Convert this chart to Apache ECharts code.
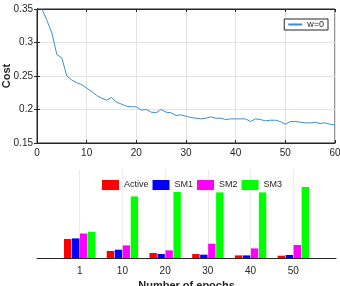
<!DOCTYPE html>
<html>
<head>
<meta charset="utf-8">
<script src="https://cdn.jsdelivr.net/npm/echarts@6/dist/echarts.min.js"></script>
<style>
html, body { margin: 0; padding: 0; background: #fff; }
#chart { width: 340px; height: 286px; }
</style>
</head>
<body>
<div id="chart"></div>
<script>
// cost curve, epochs 1..60
var epochs = [];
for (var i = 1; i <= 60; i++) epochs.push(i);
var costW0 = [
  0.350, 0.333, 0.314, 0.282, 0.277, 0.250, 0.244, 0.240, 0.237, 0.232,
  0.227, 0.221, 0.217, 0.214, 0.218, 0.211, 0.208, 0.205, 0.204, 0.204,
  0.199, 0.200, 0.196, 0.195, 0.200, 0.196, 0.195, 0.191, 0.192, 0.190,
  0.188, 0.187, 0.186, 0.187, 0.189, 0.187, 0.187, 0.185, 0.186, 0.186,
  0.186, 0.186, 0.182, 0.186, 0.185, 0.183, 0.184, 0.184, 0.182, 0.178,
  0.182, 0.182, 0.181, 0.180, 0.180, 0.181, 0.179, 0.180, 0.178, 0.177
];

// bar groups
var epochCats = ['1', '10', '20', '30', '40', '50'];
var active = [19.0, 7.0, 5.0, 4.0, 2.6, 2.3];
var sm1    = [19.6, 8.3, 4.0, 3.3, 2.6, 3.0];
var sm2    = [24.5, 12.6, 7.6, 14.3, 9.6, 13.0];
var sm3    = [26.2, 61.6, 66.0, 65.6, 65.6, 71.0];

var font = 'Liberation Sans, Arial, Helvetica, sans-serif';
var ink = '#262626';

// pad the category axis so groups sit at 1..6 of a 0..7 range
var barAxisData = [''].concat(epochCats).concat(['']);
function pad(arr) { return [null].concat(arr).concat([null]); }

var chart = echarts.init(document.getElementById('chart'));

function barSeries(name, data, color) {
  return {
    name: name, type: 'bar', xAxisIndex: 2, yAxisIndex: 2,
    data: pad(data), barWidth: 7.4, barGap: '8%',
    itemStyle: { color: color }
  };
}

chart.setOption({
  animation: false,
  backgroundColor: '#fff',
  textStyle: { fontFamily: font },
  grid: [
    { left: 37, top: 9, width: 298, height: 134, show: true, borderColor: ink, borderWidth: 1,
      containLabel: false, outerBoundsMode: 'none' },
    { left: 37, top: 170, width: 299, height: 88, containLabel: false, outerBoundsMode: 'none' }
  ],
  legend: [
    {
      data: ['w=0'], right: 12, top: 19, orient: 'vertical',
      backgroundColor: '#fff', borderColor: ink, borderWidth: 1, borderRadius: 0,
      padding: [1, 4, 1, 3], itemWidth: 14, itemHeight: 2, itemGap: 0,
      textStyle: { fontSize: 9, color: ink, fontFamily: font }
    },
    {
      data: ['Active', 'SM1', 'SM2', 'SM3'], left: 102, top: 180, padding: 0,
      icon: 'rect', itemWidth: 17, itemHeight: 10, itemGap: 4,
      textStyle: { fontSize: 9, color: ink, fontFamily: font }
    }
  ],
  xAxis: [
    {
      gridIndex: 0, type: 'value', min: 0, max: 60, interval: 10,
      axisLine: { lineStyle: { color: ink } },
      axisTick: { inside: true, length: 3, lineStyle: { color: ink } },
      axisLabel: { fontSize: 10, color: ink, margin: 5 },
      splitLine: { show: true, lineStyle: { color: '#e3e3e3' } }
    },
    {
      gridIndex: 0, type: 'value', min: 0, max: 60, interval: 10, position: 'top',
      axisLine: { lineStyle: { color: ink } },
      axisTick: { inside: true, length: 3, lineStyle: { color: ink } },
      axisLabel: { show: false }, splitLine: { show: false }
    },
    {
      gridIndex: 1, type: 'category', data: barAxisData, boundaryGap: false,
      axisLine: { lineStyle: { color: ink } },
      axisTick: { show: false },
      axisLabel: { fontSize: 10, color: ink, margin: 8, interval: 0 },
      splitLine: {
        show: true,
        interval: function (idx) { return idx > 0 && idx < barAxisData.length - 1; },
        lineStyle: { color: '#ececec' }
      },
      name: 'Number of epochs', nameLocation: 'middle', nameGap: 22, nameMoveOverlap: false,
      nameTextStyle: { fontSize: 11, fontWeight: 'bold', color: ink }
    }
  ],
  yAxis: [
    {
      gridIndex: 0, type: 'value', min: 0.15, max: 0.35, interval: 0.05,
      axisLine: { show: true, lineStyle: { color: ink } },
      axisTick: { show: true, inside: true, length: 3, lineStyle: { color: ink } },
      axisLabel: { fontSize: 10, color: ink, margin: 4 },
      splitLine: { show: true, lineStyle: { color: '#e3e3e3' } },
      name: 'Cost', nameLocation: 'middle', nameGap: 25, nameMoveOverlap: false,
      nameTextStyle: { fontSize: 11, fontWeight: 'bold', color: ink }
    },
    {
      gridIndex: 0, type: 'value', min: 0.15, max: 0.35, interval: 0.05, position: 'right',
      axisLine: { show: true, lineStyle: { color: ink } },
      axisTick: { show: true, inside: true, length: 3, lineStyle: { color: ink } },
      axisLabel: { show: false }, splitLine: { show: false }
    },
    {
      gridIndex: 1, type: 'value', min: 0, max: 88, show: false
    }
  ],
  series: [
    {
      name: 'w=0', type: 'line', xAxisIndex: 0, yAxisIndex: 0,
      data: epochs.map(function (e, i) { return [e, costW0[i]]; }),
      symbol: 'none', smooth: false,
      lineStyle: { color: '#3d8fcf', width: 1 },
      itemStyle: { color: '#3d8fcf' }
    },
    barSeries('Active', active, '#ff0000'),
    barSeries('SM1', sm1, '#0000ff'),
    barSeries('SM2', sm2, '#ff00ff'),
    barSeries('SM3', sm3, '#00ff00')
  ]
});
</script>
</body>
</html>
